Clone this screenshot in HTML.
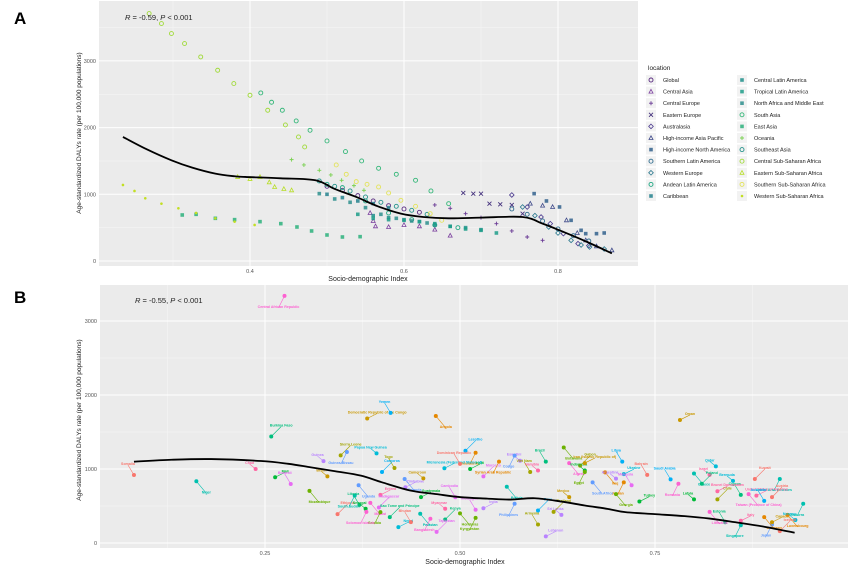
<!DOCTYPE html>
<html><head><meta charset="utf-8">
<style>
body{margin:0;background:#fff;font-family:"Liberation Sans",sans-serif;}
svg text{font-family:"Liberation Sans",sans-serif;}
</style></head>
<body>
<svg id="chart" width="863" height="572" viewBox="0 0 863 572">
<text x="14" y="24" font-size="17" font-weight="bold">A</text>
<text x="14" y="303" font-size="17" font-weight="bold">B</text>
<g id="pa"></g>
<g id="pb"></g>
<g id="legend"></g>
</svg>
<script>
// ---------- Panel A data (SDI, DALYs) ----------
const aXTicks = [0.4, 0.6, 0.8];
const aYTicks = [0, 1000, 2000, 3000];
const aRegions = ["Global","Central Asia","Central Europe","Eastern Europe","Australasia","High-income Asia Pacific","High-income North America","Southern Latin America","Western Europe","Andean Latin America","Caribbean","Central Latin America","Tropical Latin America","North Africa and Middle East","South Asia","East Asia","Oceania","Southeast Asia","Central Sub-Saharan Africa","Eastern Sub-Saharan Africa","Southern Sub-Saharan Africa","Western Sub-Saharan Africa"];
const sdiGlobal=[0.50,0.52,0.54,0.56,0.58,0.60,0.62];
const dalyGlobal=[1120,1060,980,900,830,780,730];
const sdiCAsia=[0.556,0.560,0.563,0.58,0.60,0.62,0.64,0.66];
const dalyCAsia=[720,600,520,510,540,520,470,380];
const sdiCEur=[0.64,0.66,0.68,0.70,0.72,0.74,0.76,0.78];
const dalyCEur=[840,790,710,650,560,450,360,310];
const sdiEEur=[0.677,0.69,0.70,0.711,0.725,0.74,0.754];
const dalyEEur=[1020,1010,1010,860,850,840,710];
const sdiAustr=[0.74,0.76,0.778,0.79,0.807,0.826,0.84];
const dalyAustr=[990,810,660,560,410,260,230];
const sdiHIAP=[0.764,0.78,0.793,0.811,0.825,0.836,0.85,0.87];
const dalyHIAP=[860,830,810,610,420,310,220,160];
const sdiHINA=[0.769,0.785,0.802,0.817,0.83,0.836,0.85,0.86];
const dalyHINA=[1010,900,810,610,460,410,410,420];
const sdiSLA=[0.74,0.76,0.78,0.80,0.82,0.84];
const dalySLA=[780,700,600,480,380,300];
const sdiWEur=[0.754,0.77,0.788,0.80,0.817,0.83,0.841,0.86];
const dalyWEur=[810,680,510,420,310,240,210,180];
const sdiAndean=[0.50,0.52,0.55,0.58,0.61,0.64,0.67];
const dalyAndean=[1150,1100,900,720,620,540,500];
const sdiCarib=[0.50,0.52,0.54,0.56,0.58];
const dalyCarib=[1000,950,900,860,800];
const sdiCLA=[0.56,0.58,0.60,0.62,0.64,0.66,0.68,0.70];
const dalyCLA=[680,650,620,590,540,520,500,470];
const sdiTLA=[0.54,0.56,0.58,0.60,0.62,0.64,0.66,0.68,0.70,0.72];
const dalyTLA=[700,640,620,610,590,560,520,480,460,420];
const sdiNAME=[0.49,0.51,0.53,0.55,0.57,0.59,0.61,0.63];
const dalyNAME=[1010,930,880,800,700,640,600,570];
const sdiSAsia=[0.414,0.428,0.442,0.46,0.478,0.50,0.524,0.545,0.567,0.59,0.615,0.635,0.658];
const dalySAsia=[2520,2380,2260,2100,1960,1800,1640,1500,1390,1300,1210,1050,860];
const sdiEAsia=[0.312,0.33,0.355,0.38,0.413,0.44,0.461,0.48,0.50,0.52,0.543];
const dalyEAsia=[690,700,640,620,590,560,510,450,390,360,365];
const sdiOceania=[0.454,0.47,0.49,0.505,0.519,0.535,0.548];
const dalyOceania=[1520,1440,1360,1290,1210,1130,1060];
const sdiSEAsia=[0.49,0.51,0.53,0.55,0.57,0.59,0.61,0.63];
const dalySEAsia=[1200,1120,1050,960,880,820,760,700];
const sdiCSSA=[0.269,0.285,0.298,0.315,0.336,0.358,0.379,0.40,0.423,0.446,0.463,0.471];
const dalyCSSA=[3710,3560,3410,3260,3060,2860,2660,2485,2260,2040,1860,1710];
const sdiESSA=[0.384,0.40,0.413,0.425,0.432,0.444,0.454];
const dalyESSA=[1260,1230,1260,1180,1110,1080,1060];
const sdiSSSA=[0.512,0.525,0.538,0.552,0.567,0.58,0.596,0.615,0.634,0.649];
const dalySSSA=[1440,1300,1190,1150,1110,1020,910,820,710,610];
const sdiYSSA=[0.269,0.29,0.312,0.335,0.355,0.375,0.394,0.42,0.449];
const dalyYSSA=[1190,1120,1040,1020,1010,950,890,850,760];
const sdiWSSA=[0.235,0.25,0.264,0.285,0.307,0.33,0.355,0.38,0.406];
const dalyWSSA=[1140,1050,940,860,790,720,640,590,540];
const sdiLoessA=[0.235,0.265,0.298,0.325,0.355,0.38,0.394,0.44,0.485,0.51,0.538,0.566,0.596,0.625,0.658,0.70,0.754,0.78,0.802,0.835,0.87];
const dalyLoessA=[1860,1680,1510,1400,1310,1270,1260,1240,1210,1080,960,820,710,660,640,650,660,560,460,300,115];

// ---------- Panel B data ----------
const bXTicks = [0.25, 0.50, 0.75];
const bXTickLabels = ["0.25","0.50","0.75"];
const bYTicks = [0, 1000, 2000, 3000];
const bCountries=["Somalia","Niger","Chad","Burkina Faso","Central African Republic","Mali","Burundi","Mozambique","Guinea","Sierra Leone","Guinea-Bissau","Democratic Republic of the Congo","Yemen","Angola","Papua New Guinea","Ethiopia","South Sudan","Eritrea","Liberia","Malawi","Senegal","Madagascar","Gambia","Zimbabwe","Togo","Rwanda","Cameroon","Lesotho","Mauritania","Nepal","Bhutan","Pakistan","Myanmar","Kenya","Bangladesh","Haiti","Cambodia","Botswana","Eswatini","Gabon","Congo","Oman","Libya","Iraq","Qatar","Kuwait","United Arab Emirates","United States of America","Brazil","Algeria","Indonesia","Morocco","Egypt","India","Viet Nam","South Africa","Mexico","Peru","Jordan","Ukraine","Bahrain","Greece","Israel","Poland","Romania","Turkey","Malaysia","Georgia","Argentina","Chile","Japan","Canada","Australia","Luxembourg","Norway","Iceland","Singapore","Italy","Cyprus","Taiwan (Province of China)","Latvia","Tajikistan","Kyrgyzstan","Lebanon","Armenia","Uganda","Benin","Comoros","Syrian Arab Republic","Micronesia (Federated States of)","Dominican Republic","Bolivia","Namibia","Sao Tome and Principe","Solomon Islands","Guatemala","Nicaragua","Honduras","Sri Lanka","Thailand","Philippines","Iran (Islamic Republic of)","Saudi Arabia","Germany","Bermuda","Austria","Andorra","Brunei Darussalam","Estonia","Lithuania"];
const bSdi=[0.082,0.162,0.238,0.258,0.275,0.263,0.283,0.307,0.325,0.347,0.355,0.381,0.411,0.469,0.393,0.343,0.365,0.398,0.371,0.385,0.379,0.396,0.398,0.43,0.416,0.429,0.453,0.507,0.52,0.421,0.437,0.449,0.481,0.481,0.462,0.513,0.494,0.633,0.577,0.654,0.57,0.782,0.708,0.686,0.828,0.878,0.91,0.88,0.61,0.64,0.66,0.53,0.66,0.53,0.59,0.67,0.64,0.6,0.71,0.71,0.74,0.8,0.82,0.81,0.78,0.73,0.72,0.7,0.7,0.83,0.9,0.9,0.89,0.92,0.93,0.91,0.86,0.86,0.86,0.87,0.8,0.47,0.52,0.61,0.6,0.37,0.33,0.4,0.55,0.48,0.5,0.56,0.6,0.41,0.38,0.45,0.52,0.5,0.63,0.62,0.57,0.66,0.77,0.89,0.85,0.9,0.94,0.83,0.84,0.82];
const bDaly=[919,834,1000,1439,3340,888,798,704,1107,1184,1229,1682,1758,1717,1211,390,641,650,516,543,462,480,417,753,1013,865,874,1247,1220,215,282,395,462,318,327,1000,619,1291,1112,1045,1180,1663,1099,955,1036,865,865,640,1100,1080,980,900,960,470,960,820,620,440,820,930,920,940,920,800,800,560,780,660,870,590,250,280,570,380,310,160,240,300,650,660,590,150,340,90,250,780,900,960,1100,1010,1070,760,980,350,420,620,450,400,380,420,530,1080,860,350,840,620,530,700,280,420];
const bLoessSdi=[0.082,0.13,0.181,0.245,0.28,0.309,0.34,0.373,0.40,0.437,0.47,0.501,0.535,0.565,0.596,0.63,0.66,0.69,0.712,0.75,0.788,0.82,0.852,0.89,0.929];
const bLoessDaly=[1099,1125,1134,1108,1070,1022,970,910,820,708,660,619,600,587,605,560,507,460,417,390,363,330,282,220,139];

const NS="http://www.w3.org/2000/svg";
function mk(parent,tag,attrs,text){const e=document.createElementNS(NS,tag);for(const k in attrs)e.setAttribute(k,attrs[k]);if(text!==undefined)e.textContent=text;parent.appendChild(e);return e;}

// ---------- Panel A ----------
const pa=document.getElementById('pa');
const ax0=99,ax1=638,ay0=1,ay1=266;
const xA=v=>250+(v-0.4)*770;
const yA=v=>261-v*0.0667;
const bgA=mk(pa,'rect',{x:ax0,y:ay0,width:ax1-ax0,height:ay1-ay0,fill:'#ebebeb'});


[0.3,0.5,0.7].forEach(t=>mk(pa,'line',{x1:xA(t),x2:xA(t),y1:ay0,y2:ay1,stroke:'#f7f7f7','stroke-width':0.5}));
[500,1500,2500,3500].forEach(t=>mk(pa,'line',{x1:ax0,x2:ax1,y1:yA(t),y2:yA(t),stroke:'#f7f7f7','stroke-width':0.5}));
aXTicks.forEach(t=>{mk(pa,'line',{x1:xA(t),x2:xA(t),y1:ay0,y2:ay1,stroke:'#fff','stroke-width':1});
 const tl=mk(pa,'text',{x:xA(t),y:ay1+7,'font-size':5.5,fill:'#555','text-anchor':'middle'},t.toFixed(1));
 
 });
aYTicks.forEach(t=>{mk(pa,'line',{x1:ax0,x2:ax1,y1:yA(t),y2:yA(t),stroke:'#fff','stroke-width':1});
 const tl=mk(pa,'text',{x:ax0-3,y:yA(t)+2,'font-size':5.5,fill:'#555','text-anchor':'end'},t);
 
 });
const aSeries=[[sdiGlobal,dalyGlobal],[sdiCAsia,dalyCAsia],[sdiCEur,dalyCEur],[sdiEEur,dalyEEur],[sdiAustr,dalyAustr],[sdiHIAP,dalyHIAP],[sdiHINA,dalyHINA],[sdiSLA,dalySLA],[sdiWEur,dalyWEur],[sdiAndean,dalyAndean],[sdiCarib,dalyCarib],[sdiCLA,dalyCLA],[sdiTLA,dalyTLA],[sdiNAME,dalyNAME],[sdiSAsia,dalySAsia],[sdiEAsia,dalyEAsia],[sdiOceania,dalyOceania],[sdiSEAsia,dalySEAsia],[sdiCSSA,dalyCSSA],[sdiESSA,dalyESSA],[sdiSSSA,dalySSSA],[sdiWSSA,dalyWSSA]];
const aColors=["#5a2d81","#7b3f9e","#6a3a95","#46337e","#4b3a8f","#3f4a8a","#33628d","#2f6c8e","#2a788e","#22a884","#26828e","#21918c","#1f9e89","#2e8f8d","#35b779","#2db27d","#7ad151","#25938b","#a0da39","#b8de29","#e3e35a","#c2df23"];
const aShapes=["circ","tri","plus","x","diam","tri","sq","circ","diam","circ","sq","sq","sq","sq","circ","sq","plus","circ","circ","tri","circ","dot"];
function shape(g,s,x,y,c){
 if(s==="circ")return mk(g,'circle',{cx:x,cy:y,r:2,fill:'none',stroke:c,'stroke-width':0.9});
 if(s==="dot")return mk(g,'circle',{cx:x,cy:y,r:1.3,fill:c});
 if(s==="tri")return mk(g,'path',{d:`M${x},${y-2.2}L${x+2},${y+1.5}L${x-2},${y+1.5}Z`,fill:'none',stroke:c,'stroke-width':0.8});
 if(s==="plus")return mk(g,'path',{d:`M${x-2},${y}H${x+2}M${x},${y-2}V${y+2}`,stroke:c,'stroke-width':0.9});
 if(s==="x")return mk(g,'path',{d:`M${x-2},${y-2}L${x+2},${y+2}M${x+2},${y-2}L${x-2},${y+2}`,stroke:c,'stroke-width':0.9});
 if(s==="diam")return mk(g,'path',{d:`M${x},${y-2.3}L${x+2.3},${y}L${x},${y+2.3}L${x-2.3},${y}Z`,fill:'none',stroke:c,'stroke-width':0.8});
 return mk(g,'rect',{x:x-1.8,y:y-1.8,width:3.6,height:3.6,fill:c,opacity:0.85});
}
aSeries.forEach((s,i)=>{
 const g=mk(pa,'g',{});
 
 
 s[0].forEach((v,j)=>shape(g,aShapes[i],xA(v),yA(s[1][j]),aColors[i]));
});
function smoothPath(xs,ys){let d=`M${xs[0]},${ys[0]}`;for(let i=0;i<xs.length-1;i++){const x0=xs[Math.max(i-1,0)],y0=ys[Math.max(i-1,0)],x3=xs[Math.min(i+2,xs.length-1)],y3=ys[Math.min(i+2,xs.length-1)];const c1x=xs[i]+(xs[i+1]-x0)/6,c1y=ys[i]+(ys[i+1]-y0)/6,c2x=xs[i+1]-(x3-xs[i])/6,c2y=ys[i+1]-(y3-ys[i])/6;d+=`C${c1x},${c1y} ${c2x},${c2y} ${xs[i+1]},${ys[i+1]}`;}return d;}
const la=mk(pa,'path',{d:smoothPath(sdiLoessA.map(xA),dalyLoessA.map(yA)),fill:'none',stroke:'#000','stroke-width':1.8});


const ra=mk(pa,'text',{x:125,y:20,'font-size':7.5,fill:'#222'});
ra.innerHTML='<tspan font-style="italic">R</tspan> = -0.59, <tspan font-style="italic">P</tspan> &lt; 0.001';


const xta=mk(pa,'text',{x:368,y:281,'font-size':7,fill:'#222','text-anchor':'middle'},'Socio-demographic Index');


const yta=mk(pa,'text',{x:0,y:0,'font-size':6.5,fill:'#222','text-anchor':'middle',transform:'translate(81,133) rotate(-90)'},'Age-standardized DALYs rate (per 100,000 populations)');



// ---------- Legend ----------
const lg=document.getElementById('legend');
const lt=mk(lg,'text',{x:648,y:70,'font-size':6.5,fill:'#222'},'location');


aRegions.forEach((r,i)=>{
 const col=i<11?0:1, row=i%11;
 const x=650+col*91, y=80+row*11.6;
 const g=mk(lg,'g',{});
 
 
 mk(g,'rect',{x:x-4,y:y-5,width:10,height:10,fill:'#f2f2f2'});
 shape(g,aShapes[i],x+1,y,aColors[i]);
 mk(g,'text',{x:x+13,y:y+2,'font-size':5.5,fill:'#222'},r);
});

// ---------- Panel B ----------
const pb=document.getElementById('pb');
const bx0=100,bx1=848,by0=285,by1=548;
const xB=v=>265+(v-0.25)*780;
const yB=v=>543-v*0.074;
const bgB=mk(pb,'rect',{x:bx0,y:by0,width:bx1-bx0,height:by1-by0,fill:'#ebebeb'});


[0.125,0.375,0.625,0.875].forEach(t=>mk(pb,'line',{x1:xB(t),x2:xB(t),y1:by0,y2:by1,stroke:'#f7f7f7','stroke-width':0.5}));
[500,1500,2500].forEach(t=>mk(pb,'line',{x1:bx0,x2:bx1,y1:yB(t),y2:yB(t),stroke:'#f7f7f7','stroke-width':0.5}));
bXTicks.forEach((t,i)=>{mk(pb,'line',{x1:xB(t),x2:xB(t),y1:by0,y2:by1,stroke:'#fff','stroke-width':1});
 const tl=mk(pb,'text',{x:xB(t),y:by1+7,'font-size':5.5,fill:'#555','text-anchor':'middle'},bXTickLabels[i]);
 
 });
bYTicks.forEach(t=>{mk(pb,'line',{x1:bx0,x2:bx1,y1:yB(t),y2:yB(t),stroke:'#fff','stroke-width':1});
 const tl=mk(pb,'text',{x:bx0-3,y:yB(t)+2,'font-size':5.5,fill:'#555','text-anchor':'end'},t);
 
 });
const hues=["#f8766d","#e58700","#c99800","#a3a500","#6bb100","#00ba38","#00bf7d","#00c0af","#00bcd8","#00b0f6","#619cff","#b983ff","#e76bf3","#fd61d1","#ff67a4"];
bCountries.forEach((c,i)=>{
 const g=mk(pb,'g',{});
 
 
 const col=hues[(i*7)%hues.length];
 const px=xB(bSdi[i]),py=yB(bDaly[i]);
 const dy=(i%3===0)?-10:(i%3===1?12:-5), dx=(i%2?10:-6);
 if(px+dx<bx1&&py+dy>by0){
  mk(g,'line',{x1:px,y1:py,x2:px+dx,y2:py+dy,stroke:col,'stroke-width':0.6});
  mk(g,'text',{x:px+dx,y:py+dy,'font-size':3.6,fill:col,'font-weight':'bold','text-anchor':'middle'},c);
 }
 mk(g,'circle',{cx:px,cy:py,r:2,fill:col});
});
const lb=mk(pb,'path',{d:smoothPath(bLoessSdi.map(xB),bLoessDaly.map(yB)),fill:'none',stroke:'#000','stroke-width':1.8});


const rb=mk(pb,'text',{x:135,y:303,'font-size':7.5,fill:'#222'});
rb.innerHTML='<tspan font-style="italic">R</tspan> = -0.55, <tspan font-style="italic">P</tspan> &lt; 0.001';


const xtb=mk(pb,'text',{x:465,y:564,'font-size':7,fill:'#222','text-anchor':'middle'},'Socio-demographic Index');


const ytb=mk(pb,'text',{x:0,y:0,'font-size':6.5,fill:'#222','text-anchor':'middle',transform:'translate(81,420) rotate(-90)'},'Age-standardized DALYs rate (per 100,000 populations)');


</script>
</body></html>
